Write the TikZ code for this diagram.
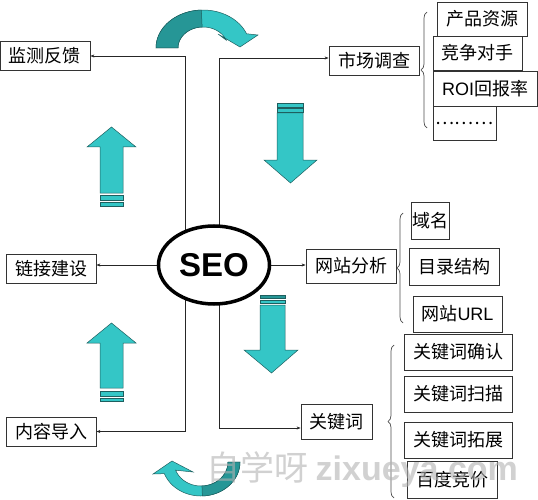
\documentclass[tikz,border=0pt]{standalone}
\usepackage{fontspec}
\setmainfont{Noto Sans CJK SC}
\newfontfamily\arialfont{Liberation Sans}
\usetikzlibrary{decorations.pathreplacing,calc,shapes.geometric,arrows.meta,backgrounds}
\definecolor{tealA}{RGB}{52,198,198}
\definecolor{tealB}{RGB}{38,150,150}
\definecolor{tealE}{RGB}{30,95,95}
\begin{document}
\begin{tikzpicture}[x=1pt,y=1pt,
 box/.style={draw=black!80, line width=0.8pt, fill=white, inner sep=0pt,
   font=\fontsize{18}{20}\selectfont, minimum height=29pt},
 conn/.style={draw=black!85, line width=0.8pt, -{Stealth[length=4pt,width=3pt]}},
 bracestyle/.style={decorate, decoration={brace, amplitude=6pt}, draw=black!70, line width=0.7pt},
 tealfill/.style={fill=tealA, draw=tealE, line width=0.5pt},
 tealdark/.style={fill=tealB, draw=tealE, line width=0.5pt}]
\useasboundingbox (0,0) rectangle (538,-500);

% central ellipse
\node[ellipse, draw=black, line width=3.5pt, fill=white, minimum width=111pt, minimum height=78pt, inner sep=0pt]
  (seo) at (214,-265) {\arialfont\bfseries\fontsize{33}{36}\selectfont SEO};

% boxes
\node[box, minimum width=90pt] (jc) at (45,-56) {监测反馈};
\node[box, minimum width=90pt] (sc) at (374,-60.5) {市场调查};
\node[box, minimum width=90pt, minimum height=34pt] (cp) at (482,-19) {产品资源};
\node[box, minimum width=89pt, minimum height=34pt] (jz) at (477.5,-53) {竞争对手};
\node[box, minimum width=104pt, minimum height=35pt] (roi) at (485,-88.5) {{\arialfont ROI}回报率};
\node[box, minimum width=63pt, minimum height=34pt] (dots) at (464.5,-123) {………};
\node[box, minimum width=90pt] (lj) at (51,-268.5) {链接建设};
\node[box, minimum width=90pt, minimum height=34pt] (wz) at (351,-266) {网站分析};
\node[box, minimum width=38pt, minimum height=37pt] (ym) at (430.5,-220.5) {域名};
\node[box, minimum width=90pt, minimum height=37pt] (ml) at (454,-266.5) {目录结构};
\node[box, minimum width=89pt, minimum height=36pt] (url) at (457.5,-314) {网站{\arialfont URL}};
\node[box, minimum width=108pt, minimum height=36pt] (k1) at (458,-352) {关键词确认};
\node[box, minimum width=108pt, minimum height=36pt] (k2) at (458,-394) {关键词扫描};
\node[box, minimum width=108pt, minimum height=36pt] (k3) at (458,-440) {关键词拓展};
\node[box, minimum width=90pt, minimum height=37pt] (bd) at (452,-479.5) {百度竞价};
\node[box, minimum width=71pt, minimum height=35pt] (gjc) at (336.5,-421.5) {关键词};
\node[box, minimum width=90pt] (nr) at (51,-431.5) {内容导入};

% connectors
\coordinate (L) at (185,-265);
\coordinate (R) at (219,-265);
\begin{scope}[on background layer]
\draw[conn] (L) |- (jc.east);
\draw[conn] (R) |- ($(sc.west)+(0,2.5)$);
\draw[conn] (seo.center) -- (seo.center -| lj.east);
\draw[conn] (seo.center) -- (seo.center -| wz.west);
\draw[conn] (R) |- ($(gjc.west)+(0,-6.5)$);
\draw[conn] (L) |- (nr.east);
\end{scope}

% braces
\draw[bracestyle] (427,-128) -- (427,-12);
\draw[bracestyle] (403,-323) -- (403,-213);
\draw[bracestyle] (394,-498) -- (394,-345);

% straight block arrows
\draw[tealfill] (100,-193) -- (100,-147) -- (87,-147) -- (111.5,-127) -- (136,-147) -- (123,-147) -- (123,-193) -- cycle;
\draw[tealfill] (100,-195) rectangle (123,-200);
\draw[tealfill] (100,-202) rectangle (123,-206);

\draw[tealfill] (100,-388) -- (100,-343) -- (87,-343) -- (111.5,-323) -- (136,-343) -- (123,-343) -- (123,-388) -- cycle;
\draw[tealfill] (100,-391) rectangle (123,-396);
\draw[tealfill] (100,-398) rectangle (123,-401);

\draw[tealfill] (277,-113) -- (277,-160) -- (264,-160) -- (290.5,-183) -- (317,-160) -- (303,-160) -- (303,-113) -- cycle;
\draw[tealfill] (277,-103) rectangle (303,-107);
\draw[tealfill] (277,-108) rectangle (303,-112);

\draw[tealfill] (260,-305) -- (260,-350) -- (244,-350) -- (271.5,-373) -- (298,-350) -- (285,-350) -- (285,-305) -- cycle;
\draw[tealdark] (260,-295) rectangle (285,-298);
\draw[tealfill] (260,-300) rectangle (285,-303);

% top curved arrow
\draw[tealfill]
  plot[domain=180:22, samples=40, variable=\t] ({203+47*cos(\t)}, {-48+38*sin(\t)})
  -- (258,-35) -- (240,-47) -- (218,-34)
  -- plot[domain=22:180, samples=40, variable=\t] ({203+25*cos(\t)}, {-48+21*sin(\t)})
  -- cycle;
\draw[tealdark]
  plot[domain=180:92, samples=30, variable=\t] ({203+47*cos(\t)}, {-48+38*sin(\t)})
  -- plot[domain=92:180, samples=30, variable=\t] ({203+25*cos(\t)}, {-48+21*sin(\t)})
  -- cycle;

% bottom curved arrow
\draw[tealfill]
  plot[domain=360:200, samples=40, variable=\t] ({201+39*cos(\t)}, {-462+34*sin(\t)})
  -- (153,-474) -- (172,-461) -- (193,-472)
  -- plot[domain=200:360, samples=40, variable=\t] ({201+27*cos(\t)}, {-462+24*sin(\t)})
  -- cycle;
\draw[tealdark]
  plot[domain=360:272, samples=30, variable=\t] ({201+39*cos(\t)}, {-462+34*sin(\t)})
  -- plot[domain=272:360, samples=30, variable=\t] ({201+27*cos(\t)}, {-462+24*sin(\t)})
  -- cycle;

% watermark
\node[text=black!30, opacity=0.6, font=\fontsize{34}{36}\selectfont, inner sep=0pt] (wm) at (362,-470) {自学呀 {\arialfont\bfseries zixueya.com}};
\end{tikzpicture}
\end{document}
